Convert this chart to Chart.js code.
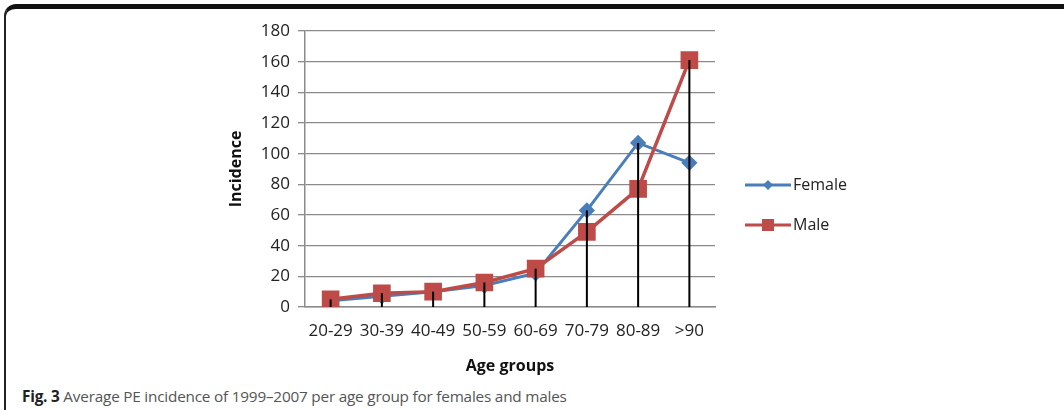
<!DOCTYPE html>
<html>
<head>
<meta charset="utf-8">
<script src="https://cdn.jsdelivr.net/npm/chart.js@4"></script>
<style>
  body { margin: 0; background: #fff; }
  #page { position: relative; width: 1064px; height: 410px; overflow: hidden; background: #fff; }
  #frame {
    position: absolute; left: 4px; top: 4px; width: 1100px; height: 430px;
    border-top: 5px solid #111; border-left: 2px solid #222; border-top-left-radius: 12px;
  }
  #wrap { position: absolute; left: 0; top: 0; width: 1064px; height: 380px; }
  #caption {
    position: absolute; left: 22px; top: 386px;
    font-family: "Open Sans", sans-serif; font-size: 15.3px; color: #555; letter-spacing: -0.2px;
  }
  #caption b { color: #222; }
</style>
</head>
<body>
<div id="page">
  <div id="frame"></div>
  <div id="wrap"><canvas id="chart"></canvas></div>
  <div id="caption"><b>Fig. 3</b> Average PE incidence of 1999–2007 per age group for females and males</div>
</div>
<script>
const ageGroups = ['20-29', '30-39', '40-49', '50-59', '60-69', '70-79', '80-89', '>90'];
const femaleValues = [4, 7, 10, 14, 22, 63, 107, 94];
const maleValues = [5, 9, 10, 16, 25, 49, 77, 161];
const yTicks = [0, 20, 40, 60, 80, 100, 120, 140, 160, 180];

const FEMALE = '#4A7EBB';
const MALE = '#BE4B48';
const FONT = '"Open Sans", sans-serif';

// Excel style drop lines from the highest point of each category to the axis
const dropLines = {
  id: 'dropLines',
  afterDatasetsDraw(chart) {
    const { ctx, chartArea, scales } = chart;
    ctx.save();
    ctx.strokeStyle = '#000';
    ctx.lineWidth = 2;
    ageGroups.forEach((g, i) => {
      const top = Math.max(femaleValues[i], maleValues[i]);
      const x = scales.x.getPixelForValue(i);
      ctx.beginPath();
      ctx.moveTo(x, scales.y.getPixelForValue(top));
      ctx.lineTo(x, chartArea.bottom);
      ctx.stroke();
    });
    ctx.restore();
  }
};

// legend with line + marker like the original
const lineLegend = {
  id: 'lineLegend',
  afterDraw(chart) {
    const { ctx, chartArea } = chart;
    const x0 = chartArea.right + 30;
    ctx.save();
    chart.data.datasets.forEach((ds, i) => {
      const y = 185 + i * 40;
      ctx.strokeStyle = ds.borderColor;
      ctx.lineWidth = 3;
      ctx.beginPath();
      ctx.moveTo(x0, y);
      ctx.lineTo(x0 + 46, y);
      ctx.stroke();
      ctx.fillStyle = ds.pointBackgroundColor;
      const cx = x0 + 23;
      if (ds.pointStyle === 'rectRot') {
        ctx.beginPath();
        ctx.moveTo(cx, y - 5);
        ctx.lineTo(cx + 5, y);
        ctx.lineTo(cx, y + 5);
        ctx.lineTo(cx - 5, y);
        ctx.closePath();
        ctx.fill();
      } else {
        ctx.fillRect(cx - 6, y - 6, 12, 12);
      }
      ctx.fillStyle = '#222';
      ctx.font = '16px ' + FONT;
      ctx.textBaseline = 'middle';
      ctx.fillText(ds.label, x0 + 48, y);
    });
    ctx.restore();
  }
};

new Chart(document.getElementById('chart'), {
  type: 'line',
  data: {
    labels: ageGroups,
    datasets: [
      {
        label: 'Female',
        data: femaleValues,
        order: 1,
        borderColor: FEMALE,
        backgroundColor: FEMALE,
        pointBackgroundColor: FEMALE,
        pointBorderColor: FEMALE,
        pointStyle: 'rectRot',
        pointRadius: 6,
        borderWidth: 3,
        tension: 0,
      },
      {
        label: 'Male',
        data: maleValues,
        order: 0,
        borderColor: MALE,
        backgroundColor: MALE,
        pointBackgroundColor: MALE,
        pointBorderColor: MALE,
        pointStyle: 'rect',
        pointRadius: 10,
        borderWidth: 3.5,
        tension: 0,
      },
    ],
  },
  options: {
    responsive: true,
    maintainAspectRatio: false,
    animation: false,
    layout: { padding: { left: 223, top: 31, right: 349, bottom: 0 } },
    plugins: { legend: { display: false }, tooltip: { enabled: false } },
    scales: {
      x: {
        offset: true,
        grid: { display: false, drawTicks: false },
        border: { display: true, color: '#8a8a8a', width: 1.5 },
        ticks: { color: '#222', font: { family: FONT, size: 17 }, padding: 14, autoSkip: false, maxRotation: 0 },
        title: { display: true, text: 'Age groups', color: '#111', font: { family: FONT, size: 16, weight: 'bold' }, padding: { top: 4, bottom: 4 } },
        afterFit: (s) => { s.height = 73; },
      },
      y: {
        min: 0,
        max: 180,
        afterBuildTicks: (s) => { s.ticks = yTicks.map((v) => ({ value: v })); },
        grid: { color: '#8a8a8a', lineWidth: 1.3, tickLength: 7 },
        border: { display: true, color: '#8a8a8a', width: 1.5 },
        ticks: { color: '#222', font: { family: FONT, size: 17 }, padding: 8 },
        title: { display: true, text: 'Incidence', color: '#111', font: { family: FONT, size: 16, weight: 'bold' }, padding: { top: 4, bottom: 4 } },
        afterFit: (s) => { s.width = 82; },
      },
    },
  },
  plugins: [dropLines, lineLegend],
});
</script>
</body>
</html>
